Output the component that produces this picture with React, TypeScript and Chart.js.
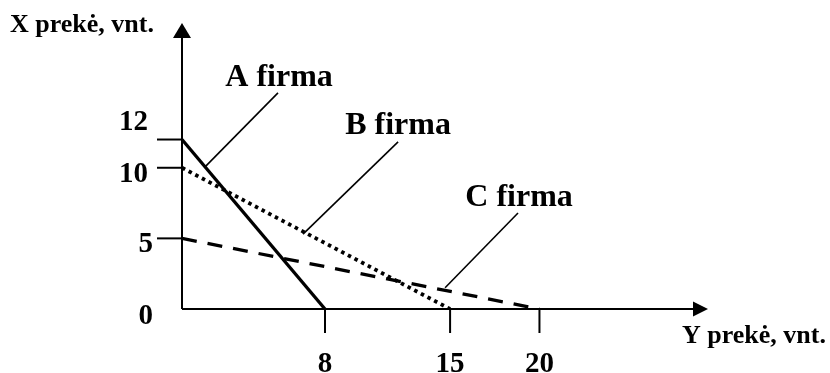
import React, { useEffect, useRef } from "react";
import { Chart, registerables } from "chart.js";

Chart.register(...registerables);

// ---- data ----
const firms = ["A firma", "B firma", "C firma"];
const firmMaxY = [12, 10, 5]; // X prekė intercepts
const firmMaxX = [8, 15, 20]; // Y prekė intercepts
const xTicks = [8, 15, 20];
const yTicks = [0, 5, 10, 12];
const xAxisTitle = "Y prekė, vnt.";
const yAxisTitle = "X prekė, vnt.";

// annotation anchors (data coordinates)
const labelPos = [
  { x: 5.43, y: 15.79 },
  { x: 12.09, y: 12.39 },
  { x: 18.86, y: 7.29 },
];
const leaderFrom = [
  { x: 1.29, y: 10.06 },
  { x: 6.77, y: 5.3 },
  { x: 14.72, y: 1.5 },
];
const leaderTo = [
  { x: 5.37, y: 15.3 },
  { x: 12.09, y: 11.83 },
  { x: 18.8, y: 6.8 },
];

// styles
const dashes = [[], [3.5, 4], [15, 11]];
const widths = [3.3, 3.8, 3.3];
const yLabelDy = [8, 6, 7, -17];
const yLabelDx = [-29, -29, -34, -34];
const FONT = '"Liberation Serif", "Times New Roman", serif';

const drawPlugin = {
  id: "econ",
  beforeDatasetsDraw(chart: any) {
    const ctx = chart.ctx;
    const xs = chart.scales.x;
    const ys = chart.scales.y;
    const area = chart.chartArea;
    const x0 = xs.getPixelForValue(0);
    const y0 = ys.getPixelForValue(0);
    ctx.save();
    ctx.strokeStyle = "#000";
    ctx.fillStyle = "#000";
    ctx.lineWidth = 2;
    // vertical axis
    ctx.beginPath();
    ctx.moveTo(x0, y0);
    ctx.lineTo(x0, area.top + 12);
    ctx.stroke();
    ctx.beginPath();
    ctx.moveTo(x0, area.top);
    ctx.lineTo(x0 - 9, area.top + 15);
    ctx.lineTo(x0 + 9, area.top + 15);
    ctx.closePath();
    ctx.fill();
    // horizontal axis
    ctx.beginPath();
    ctx.moveTo(x0, y0);
    ctx.lineTo(area.right - 12, y0);
    ctx.stroke();
    ctx.beginPath();
    ctx.moveTo(area.right, y0);
    ctx.lineTo(area.right - 15, y0 - 7.5);
    ctx.lineTo(area.right - 15, y0 + 7.5);
    ctx.closePath();
    ctx.fill();
    // ticks
    ctx.lineWidth = 2;
    yTicks.forEach((v) => {
      if (v === 0) return;
      const py = ys.getPixelForValue(v);
      ctx.beginPath();
      ctx.moveTo(x0 - 25, py);
      ctx.lineTo(x0, py);
      ctx.stroke();
    });
    xTicks.forEach((v) => {
      const px = xs.getPixelForValue(v);
      ctx.beginPath();
      ctx.moveTo(px, y0);
      ctx.lineTo(px, y0 + 24);
      ctx.stroke();
    });
    // tick labels
    ctx.font = `bold 29px ${FONT}`;
    ctx.textAlign = "right";
    ctx.textBaseline = "middle";
    yTicks.forEach((v, i) => {
      const py = ys.getPixelForValue(v);
      ctx.fillText(String(v), x0 + yLabelDx[i], py + yLabelDy[i]);
    });
    ctx.textAlign = "center";
    ctx.textBaseline = "alphabetic";
    xTicks.forEach((v) => {
      const px = xs.getPixelForValue(v);
      ctx.fillText(String(v), px, y0 + 63);
    });
    // axis titles
    ctx.font = `bold 26px ${FONT}`;
    ctx.textAlign = "left";
    ctx.fillText(yAxisTitle, 10, 32);
    ctx.fillText(xAxisTitle, 682, 343);
    ctx.restore();
  },
  afterDatasetsDraw(chart: any) {
    const ctx = chart.ctx;
    const xs = chart.scales.x;
    const ys = chart.scales.y;
    ctx.save();
    ctx.strokeStyle = "#000";
    ctx.fillStyle = "#000";
    ctx.lineWidth = 1.6;
    firms.forEach((name, i) => {
      ctx.beginPath();
      ctx.moveTo(xs.getPixelForValue(leaderFrom[i].x), ys.getPixelForValue(leaderFrom[i].y));
      ctx.lineTo(xs.getPixelForValue(leaderTo[i].x), ys.getPixelForValue(leaderTo[i].y));
      ctx.stroke();
      ctx.font = `bold 32px ${FONT}`;
      ctx.textAlign = "center";
      ctx.textBaseline = "alphabetic";
      ctx.fillText(name, xs.getPixelForValue(labelPos[i].x), ys.getPixelForValue(labelPos[i].y));
    });
    ctx.restore();
  },
};

export default function App() {
  const ref = useRef<HTMLCanvasElement | null>(null);
  useEffect(() => {
    if (!ref.current) return;
    const chart = new Chart(ref.current, {
      type: "line",
      data: {
        datasets: firms.map((name, i) => ({
          label: name,
          data: [
            { x: 0, y: firmMaxY[i] },
            { x: firmMaxX[i], y: 0 },
          ],
          borderColor: "#000",
          borderWidth: widths[i],
          borderDash: dashes[i],
          borderCapStyle: "butt" as const,
          pointRadius: 0,
          fill: false,
          tension: 0,
        })),
      },
      options: {
        animation: false,
        responsive: false,
        maintainAspectRatio: false,
        layout: { padding: { left: 182, right: 122, top: 23, bottom: 64 } },
        plugins: { legend: { display: false }, tooltip: { enabled: false } },
        scales: {
          x: { type: "linear", min: 0, max: 29.43, display: false },
          y: { type: "linear", min: 0, max: 20.25, display: false },
        },
      },
      plugins: [drawPlugin],
    });
    return () => chart.destroy();
  }, []);
  return (
    <div style={{ position: "absolute", left: 0, top: 0, width: 830, height: 373, background: "#fff" }}>
      <canvas ref={ref} width={830} height={373} />
    </div>
  );
}
